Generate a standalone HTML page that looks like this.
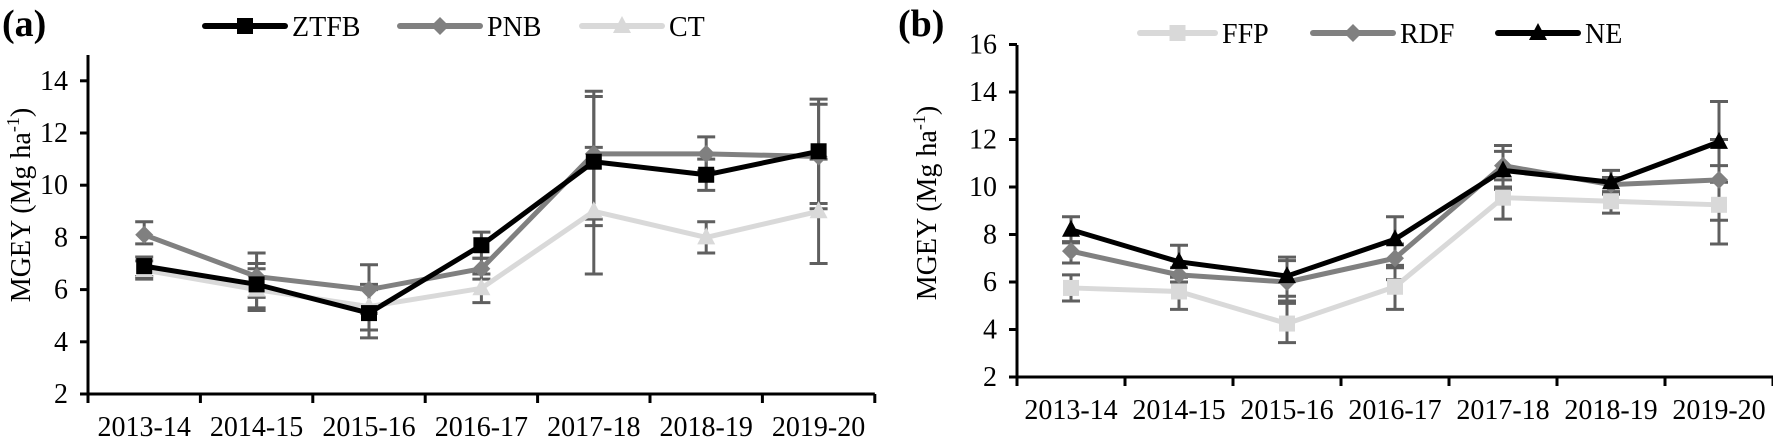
<!DOCTYPE html><html><head><meta charset="utf-8"><style>
body{margin:0;background:#fff}
svg{display:block}
svg text{font-family:"Liberation Serif","DejaVu Serif",serif}
</style></head><body>
<svg id="s" width="1773" height="445" viewBox="0 0 1773 445" xmlns="http://www.w3.org/2000/svg"></svg>
<script>
const S=document.getElementById('s');let h='';
const F='font-family="Liberation Serif, DejaVu Serif, serif"';
const cats=['2013-14','2014-15','2015-16','2016-17','2017-18','2018-19','2019-20'];
function marker(t,x,y,c){
 if(t=='sq')return `<rect x="${x-8}" y="${y-8}" width="16" height="16" fill="${c}"/>`;
 if(t=='di')return `<polygon points="${x},${y-9} ${x+9},${y} ${x},${y+9} ${x-9},${y}" fill="${c}"/>`;
 return `<polygon points="${x},${y-10} ${x+9},${y+7} ${x-9},${y+7}" fill="${c}"/>`;
}
function panel(P){
 const Y=v=>P.y0-(v-P.vmin)*P.k;
 const X=i=>P.x0+P.step*(i+0.5);
 h+=`<line x1="${P.x0}" y1="${P.top}" x2="${P.x0}" y2="${P.y0}" stroke="#000" stroke-width="3"/>`;
 h+=`<line x1="${P.x0-8}" y1="${P.y0}" x2="${P.x0+P.step*7}" y2="${P.y0}" stroke="#000" stroke-width="3"/>`;
 for(let v=P.vmin;v<=P.vmax;v+=2){h+=`<line x1="${P.x0-8}" y1="${Y(v)}" x2="${P.x0}" y2="${Y(v)}" stroke="#000" stroke-width="3"/>`;
  h+=`<text ${F} x="${P.x0-20}" y="${Y(v)+9}" font-size="28" text-anchor="end">${v}</text>`;}
 for(let i=0;i<=7;i++)h+=`<line x1="${P.x0+P.step*i}" y1="${P.y0}" x2="${P.x0+P.step*i}" y2="${P.y0+9}" stroke="#000" stroke-width="3"/>`;
 cats.forEach((c,i)=>h+=`<text ${F} x="${X(i)}" y="${P.y0+42}" font-size="28" text-anchor="middle">${c}</text>`);
 h+=`<text ${F} transform="translate(${P.tx},${P.ty}) rotate(-90)" font-size="28" text-anchor="middle">MGEY (Mg ha<tspan font-size="18" dy="-11">-1</tspan><tspan dy="11">)</tspan></text>`;
 h+=`<text ${F} x="${P.lx}" y="36" font-size="38" font-weight="bold">${P.lab}</text>`;
 P.series.forEach(s=>s.e.forEach((e,i)=>{if(!e)return;const x=X(i);
  h+=`<g stroke="#5f5f5f" stroke-width="3"><line x1="${x}" y1="${Y(e[0])}" x2="${x}" y2="${Y(e[1])}"/><line x1="${x-9}" y1="${Y(e[0])}" x2="${x+9}" y2="${Y(e[0])}"/><line x1="${x-9}" y1="${Y(e[1])}" x2="${x+9}" y2="${Y(e[1])}"/></g>`;}));
 P.series.forEach(s=>{
  h+=`<polyline points="${s.v.map((v,i)=>X(i)+','+Y(v)).join(' ')}" fill="none" stroke="${s.c}" stroke-width="5" stroke-linejoin="round"/>`;
  s.v.forEach((v,i)=>h+=marker(s.m,X(i),Y(v),s.c));
  h+=`<line x1="${s.l[0]}" y1="${P.ly}" x2="${s.l[1]}" y2="${P.ly}" stroke="${s.c}" stroke-width="6" stroke-linecap="round"/>`;
  h+=marker(s.m,(s.l[0]+s.l[1])/2,P.ly,s.c);
  h+=`<text ${F} x="${s.l[1]+7}" y="${P.ly+10}" font-size="28">${s.n}</text>`;
 });
}
panel({x0:88,y0:394,top:55,step:112.4,vmin:2,vmax:14,k:26.1,tx:30,ty:205,lx:2,lab:'(a)',ly:26,
 series:[
 {n:'CT',c:'#d9d9d9',m:'tr',l:[582,662],v:[6.75,6.0,5.35,6.05,9.0,8.0,9.0],e:[[6.4,7.1],[5.2,6.8],[4.45,6.2],[5.5,6.6],[6.6,11.45],[7.4,8.6],[7.0,11.0]]},
 {n:'PNB',c:'#808080',m:'di',l:[400,480],v:[8.1,6.5,6.0,6.8,11.2,11.2,11.1],e:[[7.75,8.6],[5.7,7.4],[5.1,6.95],[6.4,7.2],[8.7,13.6],[10.55,11.85],[9.1,13.1]]},
 {n:'ZTFB',c:'#000',m:'sq',l:[205,285],v:[6.9,6.2,5.1,7.7,10.9,10.4,11.3],e:[[6.5,7.25],[5.3,7.0],[4.15,6.0],[7.2,8.2],[8.45,13.4],[9.8,11.0],[9.3,13.3]]}
 ]});
panel({x0:1017,y0:377,top:45,step:108,vmin:2,vmax:16,k:23.75,tx:936,ty:203,lx:898,lab:'(b)',ly:33,
 series:[
 {n:'FFP',c:'#d9d9d9',m:'sq',l:[1140,1215],v:[5.75,5.6,4.25,5.8,9.55,9.4,9.25],e:[[5.2,6.3],[4.85,6.3],[3.45,5.1],[4.85,6.6],[8.65,10.3],[8.9,9.8],[7.6,10.9]]},
 {n:'RDF',c:'#808080',m:'di',l:[1313,1393],v:[7.3,6.3,6.0,7.0,10.9,10.1,10.3],e:[[6.8,7.7],[6.0,6.6],[5.2,6.9],[6.1,7.6],[10.0,11.75],[9.8,10.4],[8.6,12.0]]},
 {n:'NE',c:'#000',m:'tr',l:[1498,1578],v:[8.2,6.85,6.25,7.8,10.7,10.2,11.9],e:[[7.65,8.75],[6.2,7.55],[5.4,7.05],[6.7,8.75],[9.9,11.5],[9.7,10.7],[10.2,13.6]]}
 ]});
S.innerHTML=h;
</script>
</body></html>
